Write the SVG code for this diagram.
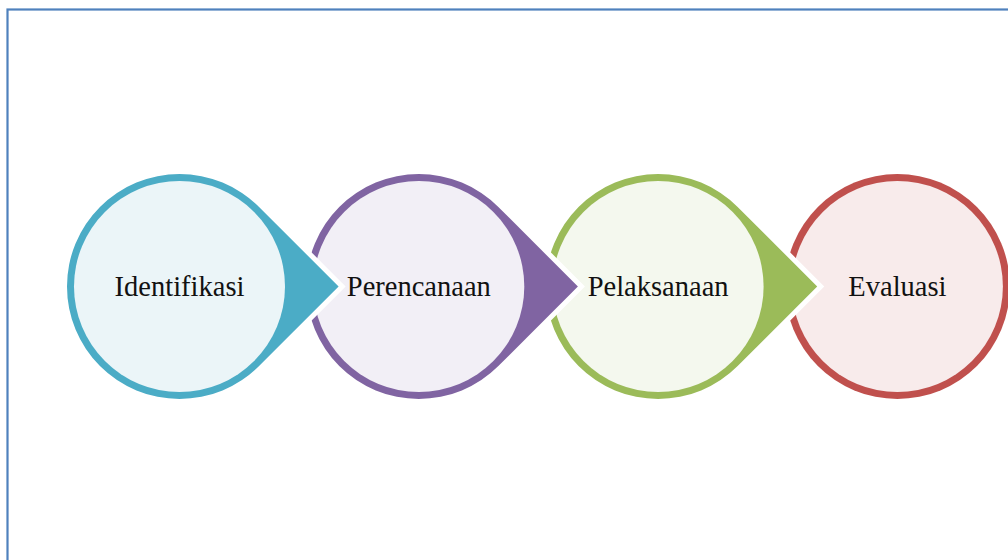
<svg xmlns="http://www.w3.org/2000/svg" xmlns:xlink="http://www.w3.org/1999/xlink" width="1008" height="560" viewBox="0 0 1008 560">
<style>
.drop{stroke:#FFFFFF;stroke-width:10;stroke-linejoin:miter;paint-order:stroke}
.lbl{font-family:"Liberation Serif","Times New Roman",serif;font-size:28.5px;fill:#111111;text-anchor:middle}
</style>
<defs>
<path id="tear" d="M159.1 0 L79.55 -79.55 A112.5 112.5 0 1 0 79.55 79.55 Z"/>
</defs>
<rect x="7.5" y="9.5" width="1100" height="600" fill="#FFFFFF" stroke="#4F81BD" stroke-width="2.2"/>
<g id="connectors"></g>
<g id="node-evaluasi" transform="translate(897.4 286.5)">
<circle r="112.5" fill="#C0504D"/>
<circle r="105.5" fill="#F8EBEB"/>
<text class="lbl" x="0" y="9.5">Evaluasi</text>
</g>
<g id="node-pelaksanaan" transform="translate(658.1 286.5)">
<use xlink:href="#tear" class="drop" fill="#9BBB59"/>
<circle r="105.5" fill="#F4F8EE"/>
<text class="lbl" x="0" y="9.5">Pelaksanaan</text>
</g>
<g id="node-perencanaan" transform="translate(418.8 286.5)">
<use xlink:href="#tear" class="drop" fill="#8064A2"/>
<circle r="105.5" fill="#F2EFF6"/>
<text class="lbl" x="0" y="9.5">Perencanaan</text>
</g>
<g id="node-identifikasi" transform="translate(179.5 286.5)">
<use xlink:href="#tear" class="drop" fill="#4BACC6"/>
<circle r="105.5" fill="#EBF5F8"/>
<text class="lbl" x="0" y="9.5">Identifikasi</text>
</g>
</svg>
